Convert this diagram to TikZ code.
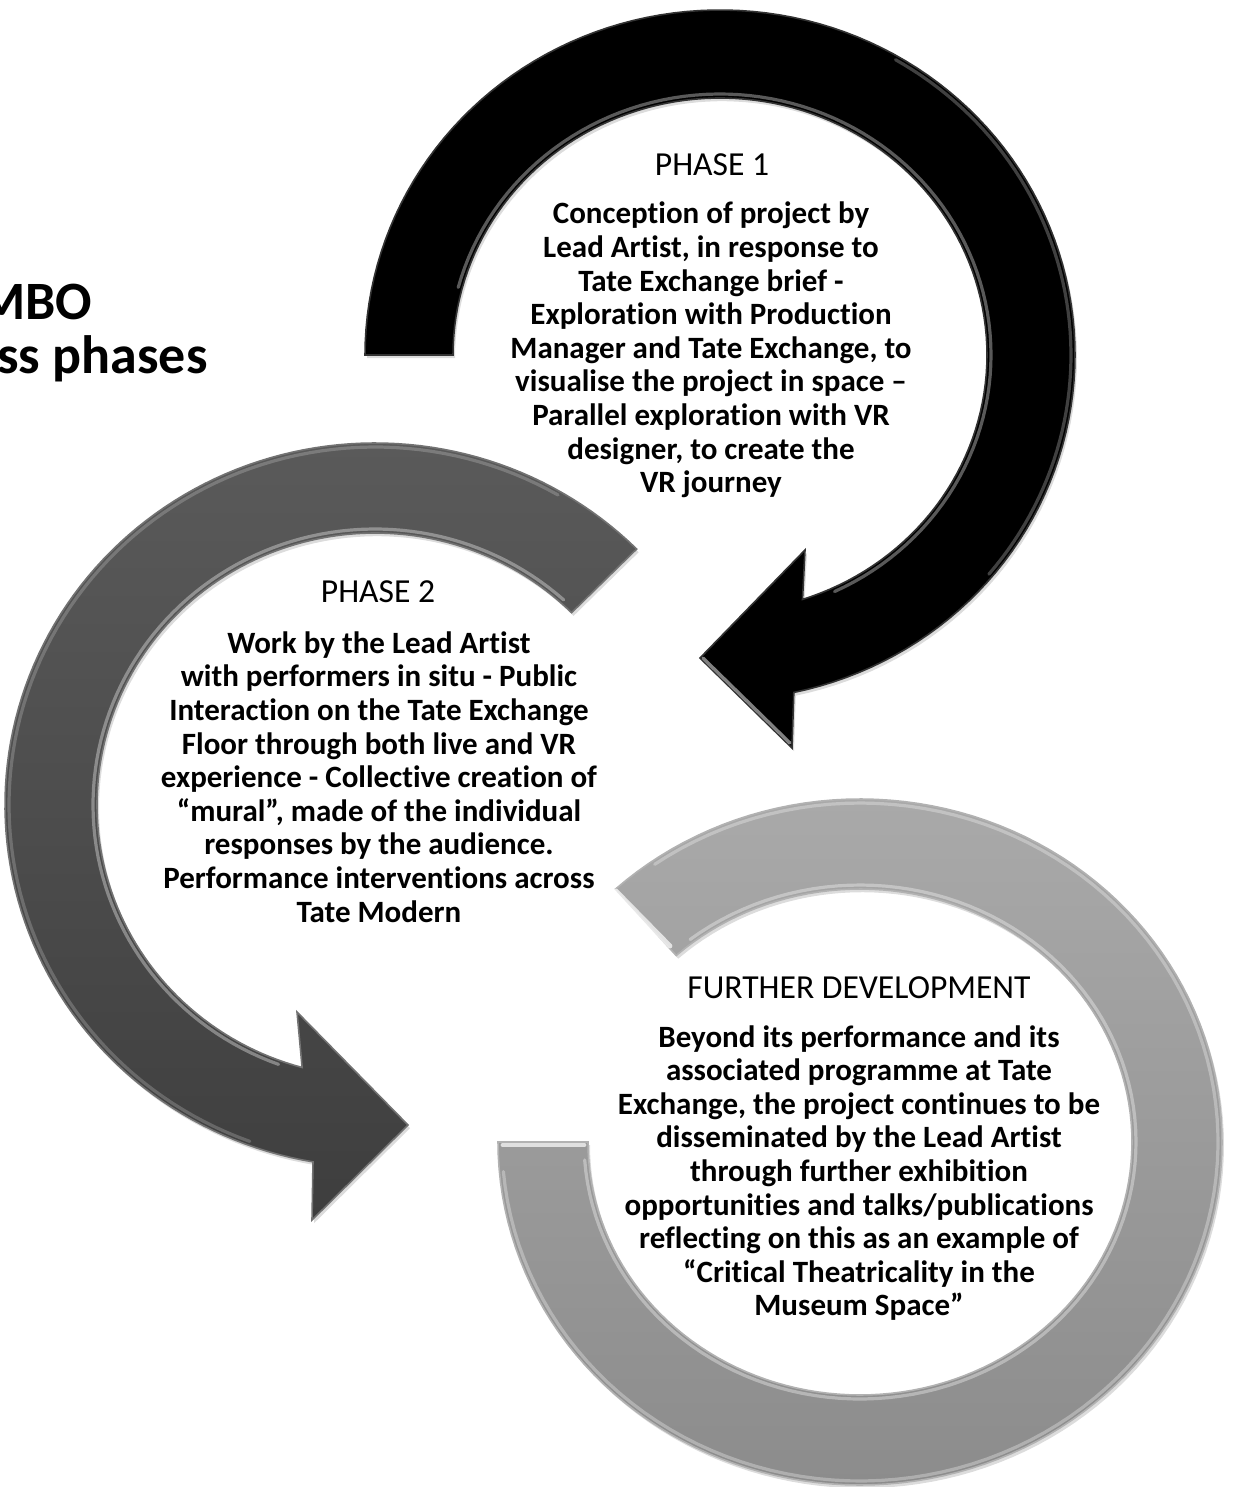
\documentclass[tikz,border=0pt]{standalone}
\usepackage{fontspec}
\setmainfont{Carlito}[Ligatures=NoCommon]
\usetikzlibrary{shadows}
\definecolor{pone}{HTML}{000000}
\definecolor{ptwotop}{HTML}{5A5A5A}
\definecolor{ptwobot}{HTML}{3E3E3E}
\definecolor{pthreetop}{HTML}{A9A9A9}
\definecolor{pthreebot}{HTML}{8C8C8C}
\tikzset{
  arrowshadow/.style={drop shadow={opacity=0.28, shadow xshift=1pt, shadow yshift=-1.6pt}},
  glint/.style={draw=white, line width=1.6pt, opacity=0.35, line cap=round},
  headtxt/.style={font=\fontsize{16.8pt}{19pt}\selectfont, inner sep=0pt},
  bodytxt/.style={font=\fontsize{15.5pt}{16.8pt}\selectfont\bfseries, align=center, inner sep=0pt},
  titletxt/.style={font=\fontsize{27pt}{30pt}\selectfont\bfseries, inner sep=0pt, anchor=base west},
}
\begin{document}
\begin{tikzpicture}[x=0.5pt,y=-0.5pt]
\useasboundingbox (0,0) rectangle (1234,1487);
% title (cut at the left edge)
\node[titletxt] (t1) at (-22,319) {MBO};
\node[titletxt] (t2) at (-3,373) {ss phases};
% Phase 1 : black circular arrow
\path[arrowshadow, fill=pone, draw=black!80, line width=0.8pt]
  plot[domain=180:438, samples=120, variable=\t] ({720+355*cos(\t)},{355+345*sin(\t)})
  -- (792,748) -- (700,658) -- (805,550)
  -- plot[domain=432:180, samples=120, variable=\t] ({720+267*cos(\t)},{355+257*sin(\t)})
  -- cycle;
\draw[glint] plot[domain=195:425, samples=100, variable=\t] ({720+271*cos(\t)},{355+261*sin(\t)});
\draw[glint, opacity=0.25] plot[domain=300:400, samples=60, variable=\t] ({720+351*cos(\t)},{355+341*sin(\t)});
\draw[glint, opacity=0.5] (703,658) -- (790,743);
% Phase 2 : dark grey circular arrow
\path[arrowshadow, top color=ptwotop, bottom color=ptwobot, draw=black!55, line width=0.8pt]
  plot[domain=-45:-260.35, samples=120, variable=\t] ({375+370*cos(\t)},{805+362*sin(\t)})
  -- (312,1220) -- (408,1125) -- (297,1012)
  -- plot[domain=-254.8:-45, samples=120, variable=\t] ({375+278*cos(\t)},{805+272*sin(\t)})
  -- cycle;
\draw[glint] plot[domain=-250:-48, samples=100, variable=\t] ({375+282*cos(\t)},{805+276*sin(\t)});
\draw[glint, opacity=0.2] plot[domain=-60:-250, samples=100, variable=\t] ({375+366*cos(\t)},{805+358*sin(\t)});
% Further development : light grey ring
\path[arrowshadow, top color=pthreetop, bottom color=pthreebot, draw=black!30, line width=0.8pt]
  plot[domain=-132.5:180, samples=140, variable=\t] ({860+362*cos(\t)},{1142+343*sin(\t)})
  -- plot[domain=180:-132.5, samples=140, variable=\t] ({860+272*cos(\t)},{1142+253*sin(\t)})
  -- cycle;
\draw[glint] plot[domain=-128:176, samples=120, variable=\t] ({860+276*cos(\t)},{1142+257*sin(\t)});
\draw[glint, opacity=0.3] plot[domain=-125:175, samples=120, variable=\t] ({860+358*cos(\t)},{1142+339*sin(\t)});
\draw[glint, opacity=0.7, line width=2.4pt] (616,891) -- (670,946);
\draw[glint, opacity=0.7, line width=2.4pt] (503,1145) -- (584,1145);
% texts
\node[headtxt] (h1) at (712,165) {PHASE 1};
\node[bodytxt] (b1) at (711,350) {Conception of project by\\Lead Artist, in response to\\Tate Exchange brief -\\Exploration with Production\\Manager and Tate Exchange, to\\visualise the project in space –\\Parallel exploration with VR\\designer, to create the\\VR journey};
\node[headtxt] (h2) at (378,592) {PHASE 2};
\node[bodytxt] (b2) at (379,777) {Work by the Lead Artist\\with performers in situ - Public\\Interaction on the Tate Exchange\\Floor through both live and VR\\experience - Collective creation of\\“mural”, made of the individual\\responses by the audience.\\Performance interventions across\\Tate Modern};
\node[headtxt] (h3) at (859,988) {FURTHER DEVELOPMENT};
\node[bodytxt] (b3) at (859,1173) {Beyond its performance and its\\associated programme at Tate\\Exchange, the project continues to be\\disseminated by the Lead Artist\\through further exhibition\\opportunities and talks/publications\\reflecting on this as an example of\\“Critical Theatricality in the\\Museum Space”};
\end{tikzpicture}
\end{document}
